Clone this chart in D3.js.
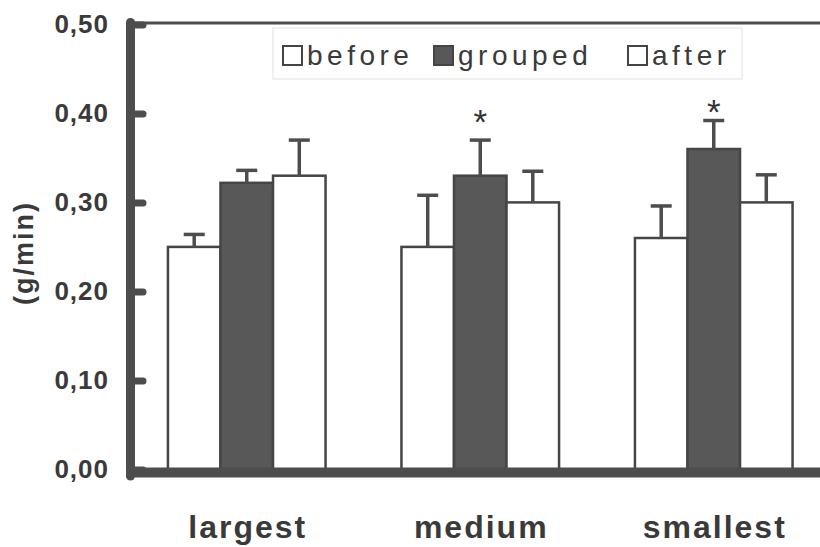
<!DOCTYPE html>
<html>
<head>
<meta charset="utf-8">
<script src="https://cdn.jsdelivr.net/npm/d3@7/dist/d3.min.js"></script>
<style>
  html, body { margin: 0; padding: 0; background: #fff; }
  svg { display: block; font-family: "Liberation Sans", Arial, sans-serif; }
</style>
</head>
<body>
<svg id="chart" width="820" height="547"></svg>
<script>
const categories = ["largest", "medium", "smallest"];
const seriesNames = ["before", "grouped", "after"];
const beforeValues  = [0.25, 0.25, 0.26];
const groupedValues = [0.322, 0.33, 0.36];
const afterValues   = [0.33, 0.30, 0.30];
const beforeErrTop  = [0.264, 0.308, 0.296];
const groupedErrTop = [0.336, 0.370, 0.392];
const afterErrTop   = [0.370, 0.335, 0.331];
const starValues    = [null, 0.401, 0.413];
const yTicks = [0, 0.1, 0.2, 0.3, 0.4, 0.5];

const ink = "#4d4d4d";
const fills = { before: "#ffffff", grouped: "#585858", after: "#ffffff" };

const svg = d3.select("#chart");

const y = d3.scaleLinear().domain([0, 0.5]).range([469.4, 24.4]);
const x0 = d3.scaleBand().domain(categories).range([130, 830.5])
  .paddingInner(0.325).paddingOuter(0.1625);
const x1 = d3.scaleBand().domain(seriesNames).range([0, x0.bandwidth()]).padding(0);

const valuesBySeries = { before: beforeValues, grouped: groupedValues, after: afterValues };
const errBySeries = { before: beforeErrTop, grouped: groupedErrTop, after: afterErrTop };

const data = [];
categories.forEach((c, i) => {
  seriesNames.forEach(s => {
    data.push({ cat: c, series: s, value: valuesBySeries[s][i], err: errBySeries[s][i] });
  });
});

// Top frame line
svg.append("line")
  .attr("x1", 130).attr("x2", 820)
  .attr("y1", y(0.5) - 1.5).attr("y2", y(0.5) - 1.5)
  .attr("stroke", ink).attr("stroke-width", 3);

// Bars
const g = svg.append("g");
g.selectAll("rect.bar").data(data).join("rect")
  .attr("class", "bar")
  .attr("x", d => x0(d.cat) + x1(d.series))
  .attr("width", x1.bandwidth())
  .attr("y", d => y(d.value))
  .attr("height", d => y(0) - y(d.value))
  .attr("fill", d => fills[d.series])
  .attr("stroke", "#454545")
  .attr("stroke-width", 2.5);

// Error bars
const eb = g.selectAll("g.err").data(data).join("g").attr("class", "err");
eb.append("line")
  .attr("x1", d => x0(d.cat) + x1(d.series) + x1.bandwidth() / 2)
  .attr("x2", d => x0(d.cat) + x1(d.series) + x1.bandwidth() / 2)
  .attr("y1", d => y(d.value))
  .attr("y2", d => y(d.err))
  .attr("stroke", ink).attr("stroke-width", 3.5);
eb.append("line")
  .attr("x1", d => x0(d.cat) + x1(d.series) + x1.bandwidth() / 2 - 10.5)
  .attr("x2", d => x0(d.cat) + x1(d.series) + x1.bandwidth() / 2 + 10.5)
  .attr("y1", d => y(d.err))
  .attr("y2", d => y(d.err))
  .attr("stroke", ink).attr("stroke-width", 3.5);

// Stars
categories.forEach((c, i) => {
  if (starValues[i] == null) return;
  svg.append("text")
    .attr("x", x0(c) + x1("grouped") + x1.bandwidth() / 2)
    .attr("y", y(starValues[i]))
    .attr("dy", "0.62em")
    .attr("text-anchor", "middle")
    .attr("font-size", 35)
    .attr("fill", "#333")
    .text("*");
});

// Y axis
const fmt = v => d3.format(".2f")(v).replace(".", ",");
const yAxis = svg.append("g")
  .attr("transform", "translate(130,0)")
  .call(d3.axisLeft(y).tickValues(yTicks).tickSize(-13).tickPadding(21).tickFormat(fmt));
yAxis.select(".domain").remove();
yAxis.selectAll(".tick line")
  .attr("stroke", ink).attr("stroke-width", 7).attr("stroke-linecap", "round");
yAxis.selectAll(".tick text")
  .attr("font-size", 26).attr("font-weight", "bold")
  .attr("fill", "#3a3a3a").attr("letter-spacing", 1)
  .attr("font-family", "'Liberation Sans', Arial, sans-serif");

// Thick left axis line
svg.append("line")
  .attr("x1", 130.5).attr("x2", 130.5)
  .attr("y1", y(0.5) - 2).attr("y2", 476)
  .attr("stroke", ink).attr("stroke-width", 9).attr("stroke-linecap", "round");

// Bottom axis line
svg.append("line")
  .attr("x1", 126).attr("x2", 820)
  .attr("y1", 472.5).attr("y2", 472.5)
  .attr("stroke", ink).attr("stroke-width", 10);

// X labels
svg.selectAll("text.xlab").data(categories).join("text")
  .attr("class", "xlab")
  .attr("x", d => x0(d) + x0.bandwidth() / 2 + 1)
  .attr("y", 538)
  .attr("text-anchor", "middle")
  .attr("font-size", 32).attr("font-weight", "bold")
  .attr("letter-spacing", 2)
  .attr("fill", "#3a3a3a")
  .text(d => d);

// Y title
svg.append("text")
  .attr("transform", "translate(33,253) rotate(-90)")
  .attr("text-anchor", "middle")
  .attr("font-size", 27).attr("font-weight", "bold")
  .attr("letter-spacing", 2)
  .attr("fill", "#3a3a3a")
  .text("(g/min)");

// Legend
const lg = svg.append("g");
lg.append("rect")
  .attr("x", 273).attr("y", 28).attr("width", 469).attr("height", 51)
  .attr("fill", "#fff").attr("stroke", "#e2e2e2").attr("stroke-width", 1);
const legendX = [283, 434, 628];
seriesNames.forEach((s, i) => {
  lg.append("rect")
    .attr("x", legendX[i]).attr("y", 46).attr("width", 19).attr("height", 19)
    .attr("fill", fills[s]).attr("stroke", "#444").attr("stroke-width", 2);
  lg.append("text")
    .attr("x", legendX[i] + 24).attr("y", 65)
    .attr("font-size", 28).attr("letter-spacing", 4.5)
    .attr("fill", "#3a3a3a")
    .text(s);
});
</script>
</body>
</html>
